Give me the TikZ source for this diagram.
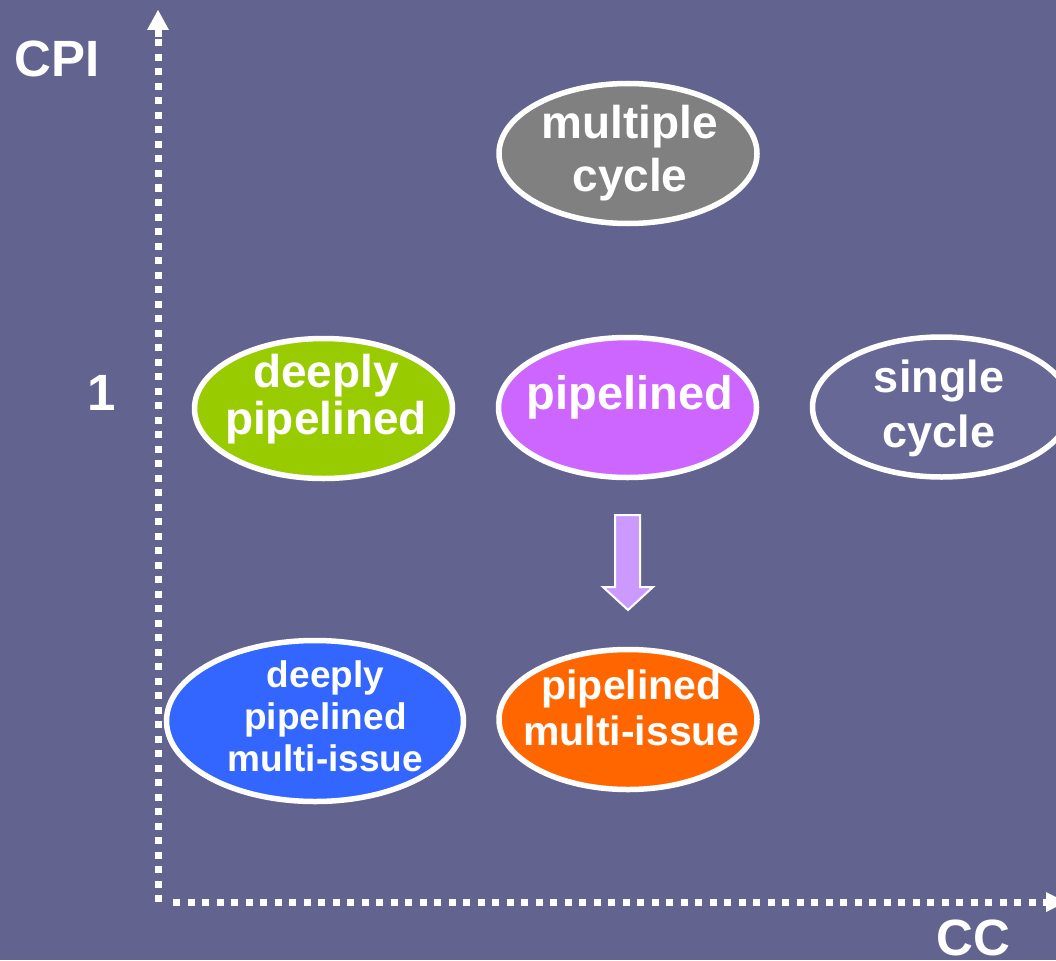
\documentclass[tikz,border=0pt]{standalone}
\usepackage{fontspec}
\setmainfont{Liberation Sans}
\usetikzlibrary{shapes.geometric}
\definecolor{bg}{RGB}{99,99,144}
\definecolor{bgin}{RGB}{104,104,151}
\definecolor{grayc}{RGB}{128,128,128}
\definecolor{greenc}{RGB}{153,204,0}
\definecolor{purplec}{RGB}{204,102,255}
\definecolor{bluec}{RGB}{51,102,255}
\definecolor{orangec}{RGB}{255,102,0}
\definecolor{arrowc}{RGB}{204,153,255}
\begin{document}
\begin{tikzpicture}[x=1pt,y=-1pt,
  ell/.style={ellipse, draw=white, line width=5.5pt, minimum width=258pt, minimum height=140pt, inner sep=0pt},
  lbl/.style={text=white, align=center, inner sep=0pt},
  fbig/.style={font=\bfseries\fontsize{46}{53}\selectfont},
  axisline/.style={white, line width=7pt, dash pattern=on 7pt off 7.5pt}]
\useasboundingbox (0,0) rectangle (1056,960);
\fill[bg] (0,0) rectangle (1056,960);
\clip (0,0) rectangle (1056,960);

% axes
\coordinate (ybot) at (158,902);
\coordinate (ytop) at (158,30);
\coordinate (xleft) at (173,902);
\coordinate (xend) at (1046,902);
\draw[axisline] (ybot) -- (ytop);
\draw[axisline] (xleft) -- (xend);
\fill[white] (158,10) -- (169,30) -- (147,30) -- cycle;
\fill[white] (154.5,29) rectangle (161.5,37);
\fill[white] (1066,902) -- (1046,912) -- (1046,892) -- cycle;

% axis labels
\node[lbl, font=\bfseries\fontsize{51}{51}\selectfont, anchor=base] (cpi) at (57.5,77) {CPI};
\node[lbl, font=\bfseries\fontsize{51}{51}\selectfont, anchor=base] (one) at (102,410) {1};
\node[lbl, font=\bfseries\fontsize{51}{51}\selectfont, anchor=base] (cc) at (973.5,955) {CC};

% ellipses
\node[ell, fill=grayc] (mc) at (628,153.5) {};
\node[ell, fill=greenc] (dp) at (323.5,408.5) {};
\node[ell, fill=purplec] (pl) at (627.5,407.5) {};
\node[ell, fill=bgin] (sc) at (941.5,407) {};
\node[ell, fill=bluec, minimum width=297pt, minimum height=161pt] (dpm) at (315,721) {};
\node[ell, fill=orangec] (plm) at (628,719.5) {};

% texts
\node[lbl, fbig] (mct) at (630,153.5) {multiple\\cycle};
\node[lbl, font=\bfseries\fontsize{46}{47}\selectfont] (dpt) at (326,399.5) {deeply\\pipelined};
\node[lbl, font=\bfseries\fontsize{47}{53}\selectfont] (plt) at (630,397.5) {pipelined};
\node[lbl, font=\bfseries\fontsize{45}{55}\selectfont] (sct) at (939,408.5) {single\\cycle};
\node[lbl, font=\bfseries\fontsize{37}{42}\selectfont] (dpmt) at (325.5,716) {deeply\\pipelined\\multi-issue};
\node[lbl, font=\bfseries\fontsize{41}{46}\selectfont] (plmt) at (631.5,708) {pipelined\\multi-issue};

% block arrow
\filldraw[fill=arrowc, draw=white, line width=2pt, line join=miter]
  (615,515) -- (640,515) -- (640,587) -- (653,587) -- (628,610) -- (603,587) -- (615,587) -- cycle;
\end{tikzpicture}
\end{document}
